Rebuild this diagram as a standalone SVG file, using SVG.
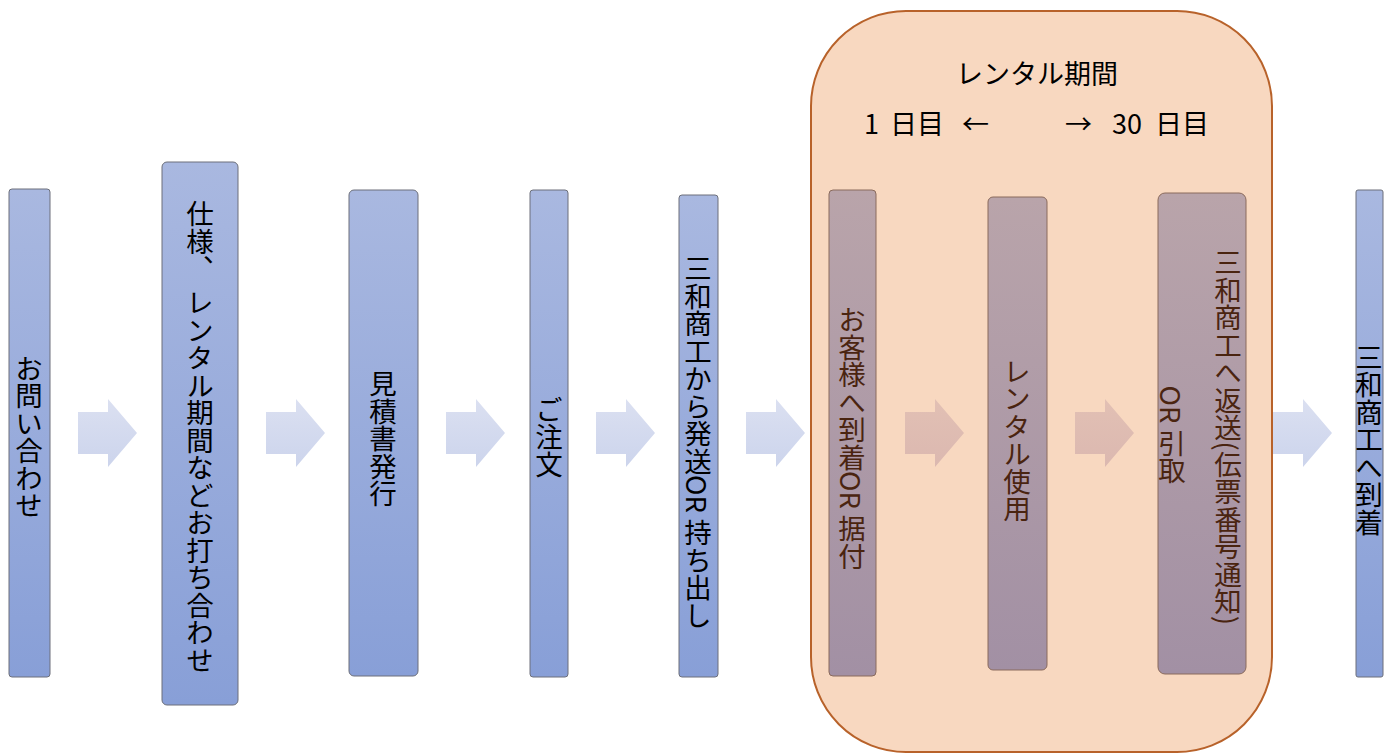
<svg xmlns="http://www.w3.org/2000/svg" width="1395" height="754" viewBox="0 0 1395 754">
<defs>
<linearGradient id="gBlue" x1="0" y1="0" x2="0" y2="1"><stop offset="0" stop-color="#a9b8e0"/><stop offset="1" stop-color="#889fd7"/></linearGradient>
<linearGradient id="gMauve" x1="0" y1="0" x2="0" y2="1"><stop offset="0" stop-color="#b9a4aa"/><stop offset="1" stop-color="#a290a4"/></linearGradient>
<linearGradient id="gArrB" x1="0" y1="0" x2="0" y2="1"><stop offset="0" stop-color="#dbe0f1"/><stop offset="1" stop-color="#ccd4ec"/></linearGradient>
<linearGradient id="gArrM" x1="0" y1="0" x2="0" y2="1"><stop offset="0" stop-color="#e2c0b4"/><stop offset="1" stop-color="#dbb8b0"/></linearGradient>
<polygon id="arr" points="0,13 30,13 30,0 59,34 30,68 30,55 0,55"/>
</defs>
<style>
.bb{fill:url(#gBlue);stroke:#6c6f7a;stroke-width:1}
.mb{fill:url(#gMauve);stroke:#8a6a5c;stroke-width:1}
.vt{font-family:"Noto Sans CJK JP","Noto Sans",sans-serif;font-size:27.5px;writing-mode:vertical-rl;text-anchor:middle;fill:#000}
.vm{fill:#4a2410}
.ht{font-family:"Noto Sans CJK JP","Noto Sans",sans-serif;font-size:27px;fill:#000}
</style>
<g id="connectors">
<use href="#arr" x="78" y="399" fill="url(#gArrB)"/>
<use href="#arr" x="266" y="399" fill="url(#gArrB)"/>
<use href="#arr" x="446" y="399" fill="url(#gArrB)"/>
<use href="#arr" x="596" y="399" fill="url(#gArrB)"/>
<use href="#arr" x="746" y="399" fill="url(#gArrB)"/>
<use href="#arr" x="1273" y="399" fill="url(#gArrB)"/>
</g>
<g id="rental-period">
<rect x="811" y="11" width="461" height="741" rx="95" ry="95" fill="#f8d8c0" stroke="#b8622a" stroke-width="2"/>
<text class="ht" x="1037" y="84" text-anchor="middle">レンタル期間</text>
<text class="ht" y="134"><tspan x="864">1</tspan><tspan x="890">日目</tspan><tspan x="962">←</tspan></text>
<text class="ht" y="134"><tspan x="1065">→</tspan><tspan x="1112">30</tspan><tspan x="1155">日目</tspan></text>
</g>
<g id="connectors-inner">
<use href="#arr" x="905" y="399" fill="url(#gArrM)"/>
<use href="#arr" x="1075" y="399" fill="url(#gArrM)"/>
</g>
<g id="n1"><rect class="bb" x="9" y="189" width="41" height="488" rx="3"/><text class="vt" x="29" y="437">お問い合わせ</text></g>
<g id="n2"><rect class="bb" x="162" y="162" width="76" height="543" rx="5"/><text class="vt" x="200" y="437">仕様、 レンタル期間などお打ち合わせ</text></g>
<g id="n3"><rect class="bb" x="349" y="190" width="69" height="486" rx="5"/><text class="vt" x="383" y="439">見積書発行</text></g>
<g id="n4"><rect class="bb" x="530" y="190" width="38" height="487" rx="3"/><text class="vt" x="549" y="437">ご注文</text></g>
<g id="n5"><rect class="bb" x="679" y="195" width="39" height="482" rx="3"/><text class="vt" x="698" y="442">三和商工から発送OR 持ち出し</text></g>
<g id="n6"><rect class="mb" x="829" y="190" width="47" height="486" rx="4"/><text class="vt vm" x="852" y="438">お客様へ到着OR 据付</text></g>
<g id="n7"><rect class="mb" x="988" y="197" width="59" height="473" rx="5"/><text class="vt vm" x="1017" y="440">レンタル使用</text></g>
<g id="n8"><rect class="mb" x="1158" y="193" width="88" height="481" rx="7"/><text class="vt vm" x="1228" y="437">三和商工へ返送(伝票番号通知)</text><text class="vt vm" x="1172" y="435">OR 引取</text></g>
<g id="n9"><rect class="bb" x="1356" y="190" width="27" height="487" rx="2"/><text class="vt" x="1369" y="440">三和商工へ到着</text></g>
</svg>
